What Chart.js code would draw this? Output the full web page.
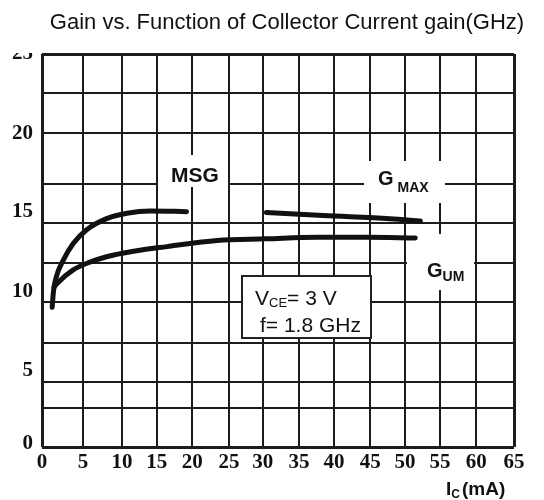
<!DOCTYPE html>
<html>
<head>
<meta charset="utf-8">
<script src="https://cdn.jsdelivr.net/npm/chart.js@4.4.1/dist/chart.umd.min.js"></script>
<style>
  html, body { margin: 0; padding: 0; background: #fff; }
  #wrap { width: 544px; height: 500px; position: relative; }
</style>
</head>
<body>
<div id="wrap"><canvas id="gainChart"></canvas></div>
<script>
// curves: Ic (mA) -> gain (dB)
const msgX = [1.4, 1.6, 2.0, 2.9, 4.3, 6.2, 8.9, 11.7, 14.9, 19.9];
const msgY = [8.7, 9.8, 10.7, 11.7, 12.8, 13.7, 14.4, 14.75, 14.9, 14.85];
const gmaxX = [30.9, 38.7, 47.9, 52.1];
const gmaxY = [14.8, 14.6, 14.4, 14.25];
const gumX = [1.65, 2.0, 4.3, 6.6, 8.9, 12.6, 17.2, 24.1, 30.9, 37.8, 44.6, 51.4];
const gumY = [10.0, 10.2, 11.1, 11.6, 11.95, 12.3, 12.6, 13.0, 13.1, 13.2, 13.2, 13.15];

// ticks (the scanned grid is not quite even, so lines and labels sit where the scan has them)
const xLabels = ['0', '5', '10', '15', '20', '25', '30', '35', '40', '45', '50', '55', '60', '65'];
const xGridAt = [0, 5.65, 11.0, 15.8, 20.7, 25.75, 30.4, 35.4, 40.2, 45.2, 50.0, 54.8, 59.8, 65];
const yLabels = ['0', '5', '10', '15', '20', '25'];
const yLabelAt = [-0.1, 4.65, 9.7, 14.85, 19.9, 25];
const yGridAt = [-0.3, 2.2, 3.9, 6.4, 9.05, 11.55, 14.1, 16.65, 19.9, 22.5, 25];
const yMin = -0.3;

const title = 'Gain vs. Function of Collector Current gain(GHz)';
const ink = '#111';
const gridInk = '#1c1c1c';
const tickFont = { family: "'Liberation Serif', 'Times New Roman', serif", size: 21, weight: 'bold' };
const sans = "'Liberation Sans', Arial, sans-serif";

const toPoints = (xs, ys) => xs.map((x, i) => ({ x: x, y: ys[i] }));

// write "main" with a subscript, return the x where the text ends
function subText(ctx, x, y, main, sub, mainFont, subFont, drop, gap) {
    ctx.font = mainFont;
    ctx.fillText(main, x, y);
    x += ctx.measureText(main).width + (gap || 0);
    ctx.font = subFont;
    ctx.fillText(sub, x, y + drop);
    return x + ctx.measureText(sub).width;
}

const labelsPlugin = {
    id: 'labelsPlugin',
    beforeDatasetsDraw(chart) {
        const ctx = chart.ctx;
        ctx.save();
        ctx.fillStyle = '#fff';
        // white patches the scan has behind the curve names
        ctx.fillRect(158, 155, 70, 32);
        ctx.fillRect(364, 161, 81, 42);
        ctx.fillRect(407, 234, 67, 56);

        ctx.fillStyle = ink;
        ctx.textBaseline = 'alphabetic';
        ctx.textAlign = 'center';
        ctx.font = 'bold 21px ' + sans;
        ctx.fillText('MSG', 195, 182);
        ctx.textAlign = 'left';
        subText(ctx, 378, 185, 'G', 'MAX', 'bold 20px ' + sans, 'bold 14px ' + sans, 7, 4);
        subText(ctx, 427, 277, 'G', 'UM', 'bold 20px ' + sans, 'bold 14px ' + sans, 4, 0);

        // conditions box
        ctx.fillStyle = '#fff';
        ctx.fillRect(242, 276, 129, 62);
        ctx.strokeStyle = '#222';
        ctx.lineWidth = 2;
        ctx.strokeRect(242, 276, 129, 62);
        ctx.fillStyle = ink;
        let x = subText(ctx, 255, 305, 'V', 'CE', '21px ' + sans, '13px ' + sans, 2, 0);
        ctx.font = '21px ' + sans;
        ctx.fillText('= 3 V', x, 305);
        ctx.fillText('f= 1.8 GHz', 260, 332);
        ctx.restore();
    },
    afterDraw(chart) {
        const ctx = chart.ctx;
        ctx.save();
        // top of the "25" is cut off in the scan
        ctx.fillStyle = '#fff';
        ctx.fillRect(0, 36, 40, 17);

        ctx.fillStyle = ink;
        ctx.textBaseline = 'alphabetic';
        ctx.textAlign = 'center';
        ctx.font = '22px ' + sans;
        ctx.fillText(title, 287, 29);

        ctx.textAlign = 'left';
        let x = subText(ctx, 446, 495, 'I', 'C', 'bold 19px ' + sans, 'bold 12px ' + sans, 3, 0);
        ctx.font = 'bold 19px ' + sans;
        ctx.fillText('(mA)', x + 2, 495);
        ctx.restore();
    }
};

const lineStyle = {
    borderColor: ink,
    borderWidth: 5,
    pointRadius: 0,
    fill: false,
    tension: 0.4,
    cubicInterpolationMode: 'monotone',
    borderCapStyle: 'round',
    borderJoinStyle: 'round',
    xAxisID: 'x',
    yAxisID: 'y'
};

const ctx = document.getElementById('gainChart').getContext('2d');
new Chart(ctx, {
    type: 'line',
    data: {
        datasets: [
            Object.assign({ label: 'MSG', data: toPoints(msgX, msgY) }, lineStyle),
            Object.assign({ label: 'GMAX', data: toPoints(gmaxX, gmaxY) }, lineStyle),
            Object.assign({ label: 'GUM', data: toPoints(gumX, gumY) }, lineStyle)
        ]
    },
    options: {
        responsive: true,
        maintainAspectRatio: false,
        animation: false,
        layout: {
            padding: { top: 54, right: 30, bottom: 0, left: 0 }
        },
        scales: {
            x: {
                type: 'linear',
                min: 0,
                max: 65,
                afterBuildTicks: scale => { scale.ticks = xGridAt.map(v => ({ value: v })); },
                afterFit: scale => { scale.height = 53; },
                ticks: {
                    autoSkip: false,
                    maxRotation: 0,
                    padding: 3,
                    color: ink,
                    font: tickFont,
                    callback: (value, index) => xLabels[index]
                },
                grid: {
                    color: gridInk,
                    drawTicks: false,
                    lineWidth: c => (c.index === 0 || c.index === xGridAt.length - 1) ? 3 : 2
                },
                border: { display: false }
            },
            // data axis: carries the curves, draws nothing itself
            y: {
                type: 'linear',
                position: 'left',
                min: yMin,
                max: 25,
                afterFit: scale => { scale.width = 0; },
                ticks: { display: false },
                grid: { display: false, drawTicks: false },
                border: { display: false }
            },
            yLab: {
                type: 'linear',
                position: 'left',
                min: yMin,
                max: 25,
                afterBuildTicks: scale => { scale.ticks = yLabelAt.map(v => ({ value: v })); },
                afterFit: scale => { scale.width = 42; },
                ticks: {
                    padding: 9,
                    color: ink,
                    font: tickFont,
                    callback: (value, index) => yLabels[index]
                },
                grid: { display: false, drawTicks: false },
                border: { display: false }
            },
            yGrid: {
                type: 'linear',
                position: 'right',
                min: yMin,
                max: 25,
                afterBuildTicks: scale => { scale.ticks = yGridAt.map(v => ({ value: v })); },
                afterFit: scale => { scale.width = 0; },
                ticks: { display: false },
                grid: {
                    color: gridInk,
                    drawTicks: false,
                    lineWidth: c => (c.index === 0 || c.index === yGridAt.length - 1) ? 3 : 2
                },
                border: { display: false }
            }
        },
        plugins: {
            legend: { display: false },
            tooltip: { enabled: false },
            title: { display: false }
        }
    },
    plugins: [labelsPlugin]
});
</script>
</body>
</html>
